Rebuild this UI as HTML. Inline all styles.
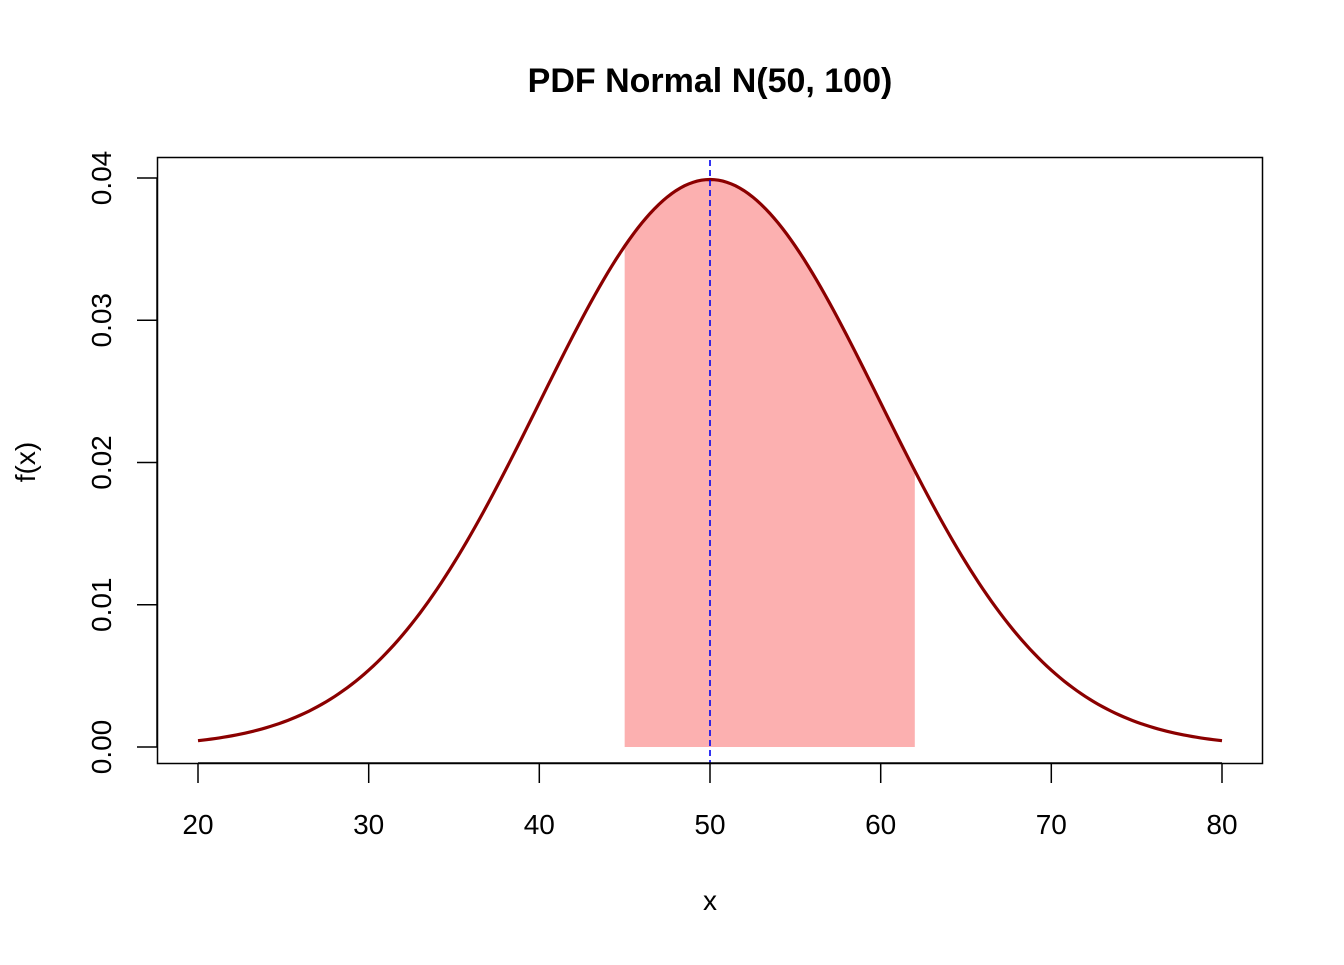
<!DOCTYPE html>
<html><head><meta charset="utf-8"><style>
body{margin:0;background:#fff}
svg text{font-family:"Liberation Sans",Arial,sans-serif;fill:#000}
</style></head><body>
<svg id="s" width="1344" height="960" xmlns="http://www.w3.org/2000/svg">
<text x="710" y="92" font-size="34" font-weight="bold" text-anchor="middle">PDF Normal N(50, 100)</text>
<path id="shade" fill="#fcb0b0" stroke="none"/>
<path id="curve" fill="none" stroke="#8b0000" stroke-width="3.2"/>
<line x1="710" y1="160" x2="710" y2="763" stroke="#0000ee" stroke-width="1.6" stroke-dasharray="6,4"/>
<rect x="157.5" y="157.5" width="1105" height="606" fill="none" stroke="#000" stroke-width="1.5"/>
<g stroke="#000" stroke-width="1.5">
<line x1="198" y1="763" x2="1222" y2="763"/>
<line x1="198" y1="763" x2="198" y2="783"/><line x1="368.7" y1="763" x2="368.7" y2="783"/>
<line x1="539.3" y1="763" x2="539.3" y2="783"/><line x1="710" y1="763" x2="710" y2="783"/>
<line x1="880.7" y1="763" x2="880.7" y2="783"/><line x1="1051.3" y1="763" x2="1051.3" y2="783"/>
<line x1="1222" y1="763" x2="1222" y2="783"/>
<line x1="157" y1="178" x2="157" y2="747"/>
<line x1="137" y1="747" x2="157" y2="747"/><line x1="137" y1="604.75" x2="157" y2="604.75"/>
<line x1="137" y1="462.5" x2="157" y2="462.5"/><line x1="137" y1="320.25" x2="157" y2="320.25"/>
<line x1="137" y1="178" x2="157" y2="178"/>
</g>
<g font-size="28" text-anchor="middle">
<text x="198" y="834">20</text><text x="368.7" y="834">30</text><text x="539.3" y="834">40</text>
<text x="710" y="834">50</text><text x="880.7" y="834">60</text><text x="1051.3" y="834">70</text>
<text x="1222" y="834">80</text>
<text x="710" y="910">x</text>
<text transform="translate(111,747) rotate(-90)">0.00</text>
<text transform="translate(111,604.75) rotate(-90)">0.01</text>
<text transform="translate(111,462.5) rotate(-90)">0.02</text>
<text transform="translate(111,320.25) rotate(-90)">0.03</text>
<text transform="translate(111,178) rotate(-90)">0.04</text>
<text transform="translate(35,462) rotate(-90)">f(x)</text>
</g>
</svg>
<script>
function f(x){return Math.exp(-(x-50)*(x-50)/200)/(10*Math.sqrt(2*Math.PI));}
function X(x){return 198+(x-20)*1024/60;}
function Y(y){return 747-y*569/0.04;}
var d="";for(var x=20;x<=80.0001;x+=0.25){d+=(d?"L":"M")+X(x).toFixed(2)+","+Y(f(x)).toFixed(2);}
document.getElementById("curve").setAttribute("d",d);
var s="M"+X(45)+","+Y(0);for(var x=45;x<=62.0001;x+=0.25){s+="L"+X(x).toFixed(2)+","+Y(f(x)).toFixed(2);}
s+="L"+X(62)+","+Y(0)+"Z";document.getElementById("shade").setAttribute("d",s);
</script>
</body></html>
